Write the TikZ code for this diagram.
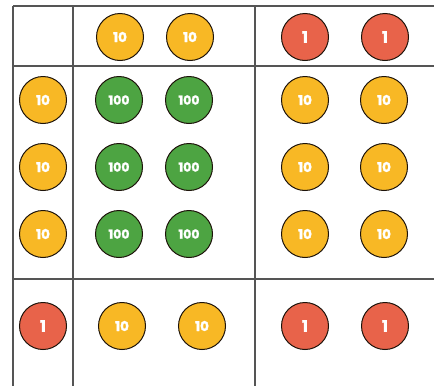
\documentclass[tikz,border=0pt]{standalone}
\usepackage{fontspec}
\setmainfont{Poppins}
\newfontfamily\coinfont{Poppins}[BoldFeatures={FakeBold=1.6}]
\definecolor{cyel}{HTML}{F8B825}
\definecolor{cgrn}{HTML}{4DA442}
\definecolor{cred}{HTML}{E8634A}
\definecolor{cline}{HTML}{555555}
\begin{document}
\begin{tikzpicture}[x=1pt,y=-1pt,
  coin/.style={circle,draw=black!85!brown,line width=1pt,minimum size=47pt,inner sep=0pt,text=white,font=\coinfont\bfseries\fontsize{13.5}{13.5}\selectfont},
  ten/.style={coin,fill=cyel},
  hund/.style={coin,fill=cgrn,font=\coinfont\bfseries\fontsize{12.5}{12.5}\selectfont},
  one/.style={coin,fill=cred,font=\coinfont\bfseries\fontsize{16}{16}\selectfont},
  gridline/.style={draw=cline,line width=1.1pt}]
\useasboundingbox (0,0) rectangle (434,386);
% grid
\coordinate (tl) at (13,6);
\coordinate (tr) at (434,6);
\coordinate (bl) at (13,386);
\coordinate (v1t) at (73,6);
\coordinate (v1b) at (73,386);
\coordinate (v2t) at (255,6);
\coordinate (v2b) at (255,386);
\coordinate (h1l) at (13,66);
\coordinate (h1r) at (434,66);
\coordinate (h2l) at (13,279);
\coordinate (h2r) at (434,279);
\draw[gridline] (tl) -- (tr);
\draw[gridline] (tl) -- (bl);
\draw[gridline] (v1t) -- (v1b);
\draw[gridline] (v2t) -- (v2b);
\draw[gridline] (h1l) -- (h1r);
\draw[gridline] (h2l) -- (h2r);
% top row
\node[ten] (t1) at (120,37) {10};
\node[ten] (t2) at (190,37) {10};
\node[one] (t3) at (305,37) {1};
\node[one] (t4) at (385,37) {1};
% left column
\node[ten] (l1) at (43,100) {10};
\node[ten] (l2) at (43,167) {10};
\node[ten] (l3) at (43,234) {10};
% green
\node[hund] (g11) at (119,100) {100};
\node[hund] (g12) at (189,100) {100};
\node[hund] (g21) at (119,167) {100};
\node[hund] (g22) at (189,167) {100};
\node[hund] (g31) at (119,234) {100};
\node[hund] (g32) at (189,234) {100};
% right yellows
\node[ten] (y11) at (305,100) {10};
\node[ten] (y12) at (384,100) {10};
\node[ten] (y21) at (305,167) {10};
\node[ten] (y22) at (384,167) {10};
\node[ten] (y31) at (305,234) {10};
\node[ten] (y32) at (384,234) {10};
% bottom row
\node[one] (b0) at (43,326) {1};
\node[ten] (b1) at (122,326) {10};
\node[ten] (b2) at (202,326) {10};
\node[one] (b3) at (305,326) {1};
\node[one] (b4) at (385,326) {1};
\end{tikzpicture}
\end{document}
